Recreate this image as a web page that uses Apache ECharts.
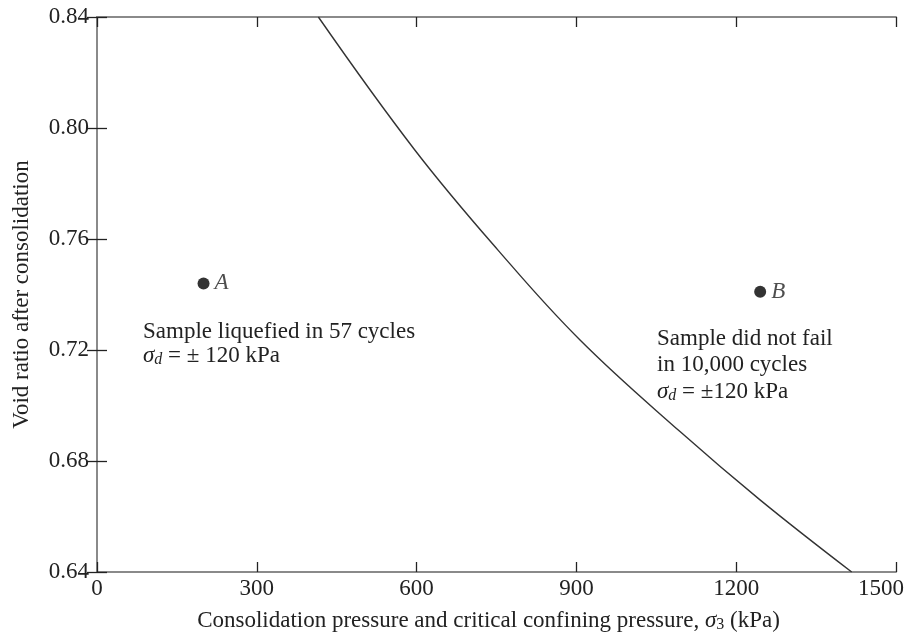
<!DOCTYPE html>
<html>
<head>
<meta charset="utf-8">
<script src="https://cdn.jsdelivr.net/npm/echarts@6/dist/echarts.min.js"></script>
<style>
html, body { margin: 0; padding: 0; background: #fff; }
#main { width: 908px; height: 637px; }
</style>
</head>
<body>
<div id="main"></div>
<script>
// boundary curve
var curveX = [415.6, 597, 752.8, 906.8, 1094.5, 1244.7, 1416.8];
var curveY = [0.84, 0.792, 0.756, 0.7236, 0.6906, 0.666, 0.64];
// samples
var sampleNames = ['A', 'B'];
var sampleX = [200, 1245];
var sampleY = [0.744, 0.741];

var serif = '"Liberation Serif", "DejaVu Serif", serif';

var myChart = echarts.init(document.getElementById('main'));

var curveData = curveX.map(function (x, i) { return [x, curveY[i]]; });
var sampleData = sampleX.map(function (x, i) { return [x, sampleY[i], sampleNames[i]]; });

var axisLine = { show: true, lineStyle: { color: '#8a8a8a', width: 2 } };
var axisTick = { show: true, inside: true, length: 10, lineStyle: { color: '#222', width: 1.3 } };

var option = {
    animation: false,
    grid: { left: 97, right: 12, top: 17, bottom: 65, containLabel: false, outerBoundsMode: 'none' },
    xAxis: [{
        type: 'value',
        min: 0, max: 1500, interval: 300,
        axisLine: axisLine,
        axisTick: axisTick,
        splitLine: { show: false },
        axisLabel: {
            color: '#222', fontFamily: serif, fontSize: 23, margin: 5,
            formatter: function (v) { return v === 1500 ? '{e|1500}' : String(v); },
            rich: { e: { fontFamily: serif, fontSize: 23, color: '#222', padding: [0, 30, 0, 0] } }
        },
        name: '{n|Consolidation pressure and critical confining pressure, }{s|σ}{sub|3}{n| (kPa)}',
        nameLocation: 'middle',
        nameGap: 36,
        nameTextStyle: {
            padding: [0, 16, 0, 0],
            rich: {
                n: { fontFamily: serif, fontSize: 23, color: '#222' },
                s: { fontFamily: serif, fontSize: 23, fontStyle: 'italic', color: '#222' },
                sub: { fontFamily: serif, fontSize: 16, color: '#222', padding: [9, 0, 0, 0] }
            }
        }
    }, {
        type: 'value', position: 'top',
        min: 0, max: 1500, interval: 300,
        axisLine: axisLine, axisTick: axisTick,
        axisLabel: { show: false }, splitLine: { show: false }
    }],
    yAxis: [{
        type: 'value',
        min: 0.64, max: 0.84, interval: 0.04,
        axisLine: axisLine,
        axisTick: axisTick,
        splitLine: { show: false },
        axisLabel: {
            color: '#222', fontFamily: serif, fontSize: 23, margin: 8,
            formatter: function (v) { return v.toFixed(2); }
        },
        name: 'Void ratio after consolidation',
        nameLocation: 'middle',
        nameGap: 64,
        nameTextStyle: { fontFamily: serif, fontSize: 23, color: '#222' }
    }, {
        type: 'value', position: 'right',
        min: 0.64, max: 0.84, interval: 0.04,
        axisLine: axisLine, axisTick: axisTick,
        axisLabel: { show: false }, splitLine: { show: false }
    }],
    series: [{
        type: 'line',
        data: curveData,
        smooth: 0.4,
        showSymbol: false,
        lineStyle: { color: '#333', width: 1.4 }
    }, {
        type: 'scatter',
        data: sampleData,
        symbolSize: 12,
        itemStyle: { color: '#000' },
        label: {
            show: true, position: 'right', distance: 5,
            formatter: function (p) { return p.data[2]; },
            fontFamily: serif, fontStyle: 'italic', fontSize: 23, color: '#222'
        }
    }],
    graphic: [{
        type: 'text', left: 143, top: 320,
        style: {
            text: '{n|Sample liquefied in 57 cycles}\n{s|σ}{sub|d}{n| = ± 120 kPa}',
            rich: {
                n: { fontFamily: serif, fontSize: 23, fill: '#222', lineHeight: 24 },
                s: { fontFamily: serif, fontSize: 23, fontStyle: 'italic', fill: '#222', lineHeight: 24 },
                sub: { fontFamily: serif, fontSize: 16, fontStyle: 'italic', fill: '#222', padding: [9, 0, 0, 0], lineHeight: 24 }
            }
        }
    }, {
        type: 'text', left: 657, top: 327,
        style: {
            text: '{n|Sample did not fail}\n{n|in 10,000 cycles}\n{s|σ}{sub|d}{n| = ±120 kPa}',
            rich: {
                n: { fontFamily: serif, fontSize: 23, fill: '#222', lineHeight: 26.5 },
                s: { fontFamily: serif, fontSize: 23, fontStyle: 'italic', fill: '#222', lineHeight: 26.5 },
                sub: { fontFamily: serif, fontSize: 16, fontStyle: 'italic', fill: '#222', padding: [9, 0, 0, 0], lineHeight: 26.5 }
            }
        }
    }]
};

myChart.setOption(option);
</script>
</body>
</html>
